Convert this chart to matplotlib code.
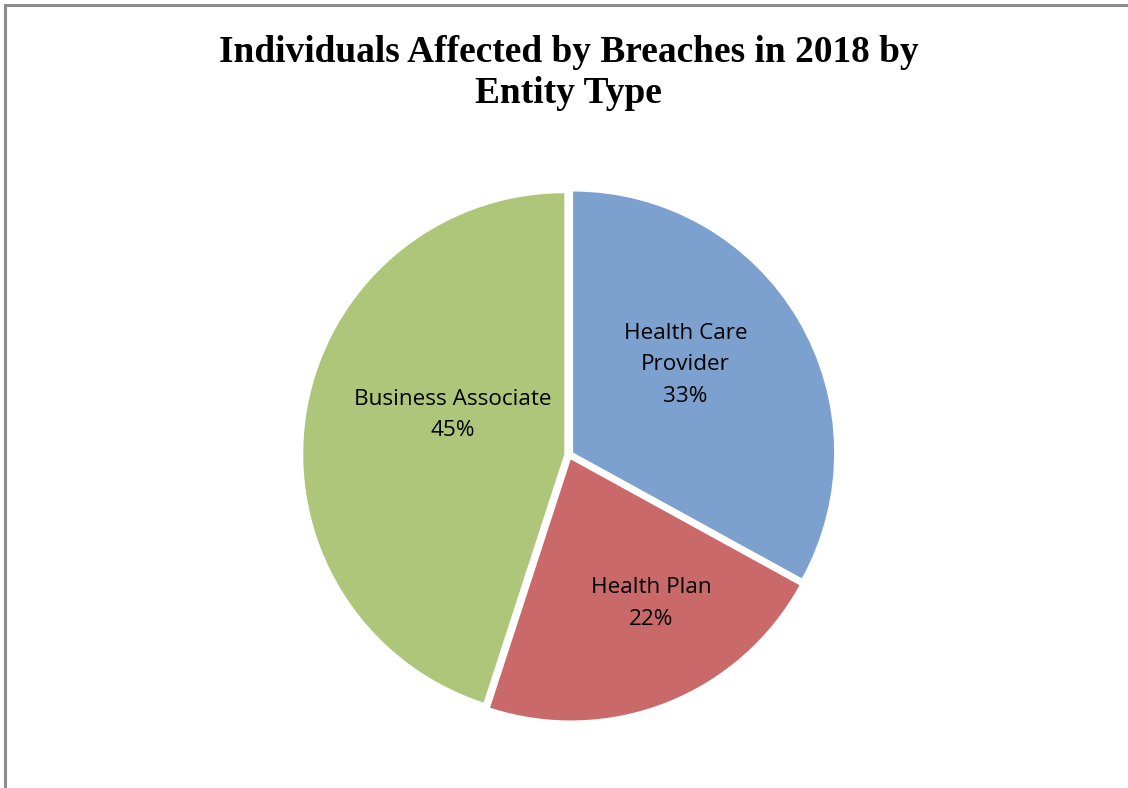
import matplotlib
matplotlib.use("Agg")
import matplotlib.pyplot as plt
from matplotlib.patches import Rectangle

categories = ["Health Care\nProvider", "Health Plan", "Business Associate"]
shares = [33, 22, 45]
colors = ["#7CA1CF", "#C9696A", "#ADC67A"]
# label centres in pie-radius units (Excel "best fit" placement)
label_xy = [(0.44, 0.34), (0.31, -0.56), (-0.44, 0.15)]

fig = plt.figure(figsize=(11.28, 7.88), dpi=100)

# chart frame (only top/left edges fall inside the picture)
fig.add_artist(Rectangle((5 / 1128, -0.1), 1.2, 1 - 5 / 788 + 0.1,
                         transform=fig.transFigure, fill=False,
                         edgecolor="#8c8c8c", linewidth=2.2))

fig.text(0.504, 0.955, "Individuals Affected by Breaches in 2018 by\nEntity Type",
         ha="center", va="top", fontsize=26.9, fontweight="bold",
         family="Liberation Serif", linespacing=1.2)

R = 265
lim = 1.1
size = 2 * lim * R
cx, cy = 569, 788 - 455
ax = fig.add_axes([(cx - size / 2) / 1128, (cy - size / 2) / 788,
                   size / 1128, size / 788])
ax.pie(shares, colors=colors, startangle=90, counterclock=False,
       explode=[0.018] * 3, radius=0.985,
       wedgeprops=dict(linewidth=0))
for (x, y), name, v in zip(label_xy, categories, shares):
    ax.text(x, y, f"{name}\n{v}%", ha="center", va="center",
            fontsize=16.2, family="Open Sans", linespacing=1.65)
ax.set_xlim(-lim, lim)
ax.set_ylim(-lim, lim)
ax.set_aspect("equal")
ax.axis("off")

fig.savefig("out.png", dpi=100)
